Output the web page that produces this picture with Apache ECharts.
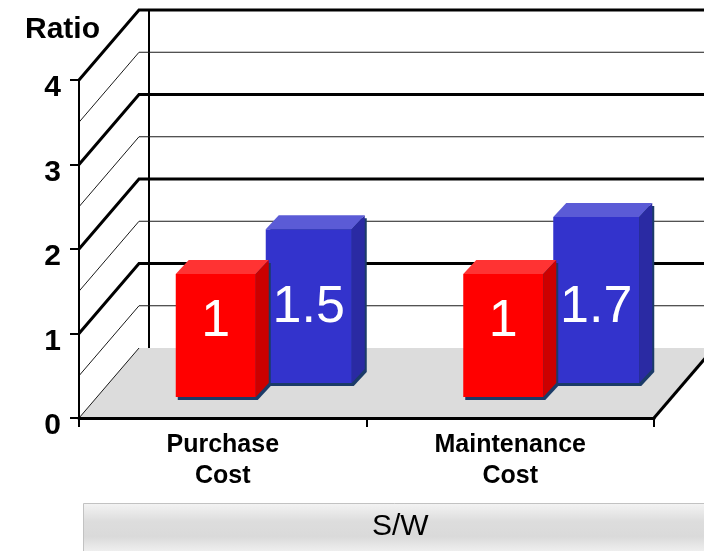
<!DOCTYPE html>
<html>
<head>
<meta charset="utf-8">
<script src="https://cdn.jsdelivr.net/npm/echarts@6/dist/echarts.min.js"></script>
<style>
  html, body { margin: 0; padding: 0; background: #ffffff; }
  #chart { width: 704px; height: 551px; }
</style>
</head>
<body>
<div id="chart"></div>
<script>
// ---- data ----
const categories = ['Purchase\nCost', 'Maintenance\nCost'];
const baselineRatio = [1, 1];      // red columns
const comparedRatio = [1.5, 1.7];  // blue columns
const ratioTicks = [0, 1, 2, 3, 4];
const groupName = 'S/W';
const axisTitle = 'Ratio';

// ---- look ----
const FONT = '"Liberation Sans", Arial, Helvetica, sans-serif';
const DEPTH = [60, -70];       // floor / side wall depth, px
const BAR_DEPTH = [13, -14];   // column depth, px
const BAR_BASE = -1;           // base value of the column scale
const LABEL_RISE = 75;

const columnLooks = [
  { offset: -47, width: 80, lift: 0,
    front: '#ff0000', top: '#ff3333', side: '#cc0000' },
  { offset: 43, width: 86, lift: 14,
    front: '#3333cc', top: '#5b5bd6', side: '#2a2aa3' }
];

function renderWalls(params, api) {
  const children = [];
  const dx = DEPTH[0], dy = DEPTH[1];
  const f0 = api.coord([0, 0]);
  const f1 = api.coord([categories.length, 0]);
  // floor
  children.push({
    type: 'polygon',
    shape: { points: [f0, f1, [f1[0] + dx, f1[1] + dy], [f0[0] + dx, f0[1] + dy]] },
    style: { fill: '#dcdcdc' }
  });
  // back wall corner
  const t = api.coord([0, ratioTicks[ratioTicks.length - 1]]);
  children.push({
    type: 'line',
    shape: { x1: t[0] + dx + 10, y1: t[1] + dy, x2: t[0] + dx + 10, y2: f0[1] + dy },
    style: { stroke: '#000', lineWidth: 2 }
  });
  // grid lines on side wall and back wall
  const maxV = ratioTicks[ratioTicks.length - 1];
  for (let k = 0; k <= maxV * 2; k++) {
    const v = k / 2;
    const p = api.coord([0, v]);
    const major = k % 2 === 0 && k > 0;
    const pts = [p, [p[0] + dx, p[1] + dy]];
    if (k > 0) pts.push([f1[0] + dx, p[1] + dy]);
    children.push({
      type: 'polyline',
      shape: { points: pts },
      style: { stroke: major ? '#000' : '#1a1a1a', lineWidth: major ? 3 : 1, fill: null, lineJoin: 'miter' }
    });
  }
  // floor right edge
  children.push({
    type: 'line',
    shape: { x1: f1[0], y1: f1[1], x2: f1[0] + dx, y2: f1[1] + dy },
    style: { stroke: '#000', lineWidth: 3 }
  });
  return { type: 'group', children: children };
}

function makeColumnRenderer(look) {
  return function (params, api) {
    const i = api.value(0);
    const v = api.value(1);
    const topPt = api.coord([i + 0.5, v]);
    const basePt = api.coord([i + 0.5, BAR_BASE]);
    const x0 = topPt[0] + look.offset;
    const x1 = x0 + look.width;
    const yT = topPt[1] - look.lift;
    const yB = basePt[1] - look.lift;
    const bx = BAR_DEPTH[0], by = BAR_DEPTH[1];
    const outline = [[x0, yB], [x1, yB], [x1 + bx, yB + by], [x1 + bx, yT + by], [x0 + bx, yT + by], [x0, yT]];
    return {
      type: 'group',
      children: [
        { type: 'polygon', shape: { points: outline.map(p => [p[0] + 2, p[1] + 3]) },
          style: { fill: '#1b3b68' } },
        { type: 'polygon', shape: { points: [[x0, yT], [x1, yT], [x1, yB], [x0, yB]] },
          style: { fill: look.front } },
        { type: 'polygon', shape: { points: [[x0, yT], [x0 + bx, yT + by], [x1 + bx, yT + by], [x1, yT]] },
          style: { fill: look.top } },
        { type: 'polygon', shape: { points: [[x1, yT], [x1 + bx, yT + by], [x1 + bx, yB + by], [x1, yB]] },
          style: { fill: look.side } },
        { type: 'text',
          style: { text: String(v), x: (x0 + x1) / 2, y: yB - LABEL_RISE,
                   fill: '#ffffff', font: '52px ' + FONT, align: 'center', verticalAlign: 'middle' } }
      ]
    };
  };
}

const chart = echarts.init(document.getElementById('chart'), null, { renderer: 'canvas' });

const gridLeft = 79, gridRight = 50;

chart.setOption({
  animation: false,
  backgroundColor: '#ffffff',
  title: {
    text: axisTitle,
    left: 20, top: 10,
    textStyle: { fontFamily: FONT, fontSize: 30, fontWeight: 'bold', color: '#000' }
  },
  grid: [
    { left: gridLeft, right: gridRight, top: 80, bottom: 133 },
    { left: gridLeft, right: gridRight, top: 89.5, bottom: 154 }
  ],
  xAxis: [
    {
      type: 'category', gridIndex: 0, data: categories, boundaryGap: true, z: 5,
      axisLine: { lineStyle: { color: '#000', width: 3 } },
      axisTick: { show: true, length: 9, lineStyle: { color: '#000', width: 2 } },
      axisLabel: { color: '#000', fontFamily: FONT, fontSize: 25, fontWeight: 'bold', lineHeight: 31, margin: 12 },
      splitLine: { show: false }
    },
    { type: 'value', gridIndex: 0, min: 0, max: categories.length, show: false },
    { type: 'value', gridIndex: 1, min: 0, max: categories.length, show: false }
  ],
  yAxis: [
    {
      type: 'value', gridIndex: 0, z: 5,
      min: ratioTicks[0], max: ratioTicks[ratioTicks.length - 1], interval: ratioTicks[1] - ratioTicks[0],
      axisLine: { show: true, lineStyle: { color: '#000', width: 2 } },
      axisTick: { show: true, length: 9, lineStyle: { color: '#000', width: 2 } },
      axisLabel: {
        margin: 18,
        formatter: '{n|{value}}',
        rich: { n: { color: '#000', fontFamily: FONT, fontSize: 30, fontWeight: 'bold', padding: [16, 0, 0, 0] } }
      },
      splitLine: { show: false }
    },
    { type: 'value', gridIndex: 1, min: BAR_BASE, max: 4, show: false }
  ],
  series: [
    {
      type: 'custom', name: 'walls', xAxisIndex: 1, yAxisIndex: 0, z: 1, silent: true,
      data: [[0, 0]],
      renderItem: renderWalls
    },
    {
      type: 'custom', name: 'baseline', xAxisIndex: 2, yAxisIndex: 1, z: 3, silent: true,
      data: baselineRatio.map((v, i) => [i, v]),
      renderItem: makeColumnRenderer(columnLooks[0])
    },
    {
      type: 'custom', name: 'compared', xAxisIndex: 2, yAxisIndex: 1, z: 2, silent: true,
      data: comparedRatio.map((v, i) => [i, v]),
      renderItem: makeColumnRenderer(columnLooks[1])
    }
  ],
  graphic: [
    {
      type: 'rect', left: 83, top: 503, silent: true,
      shape: { width: 640, height: 60 },
      style: {
        fill: new echarts.graphic.LinearGradient(0, 0, 0, 1, [
          { offset: 0, color: '#f4f4f4' },
          { offset: 0.3, color: '#dddddd' },
          { offset: 0.55, color: '#dadada' },
          { offset: 0.85, color: '#f4f4f4' },
          { offset: 1, color: '#f8f8f8' }
        ]),
        stroke: '#c2c2c2', lineWidth: 1
      }
    },
    {
      type: 'text', left: 372, top: 512, silent: true,
      style: { text: groupName, font: '30px ' + FONT, fill: '#000' }
    }
  ]
});
</script>
</body>
</html>
